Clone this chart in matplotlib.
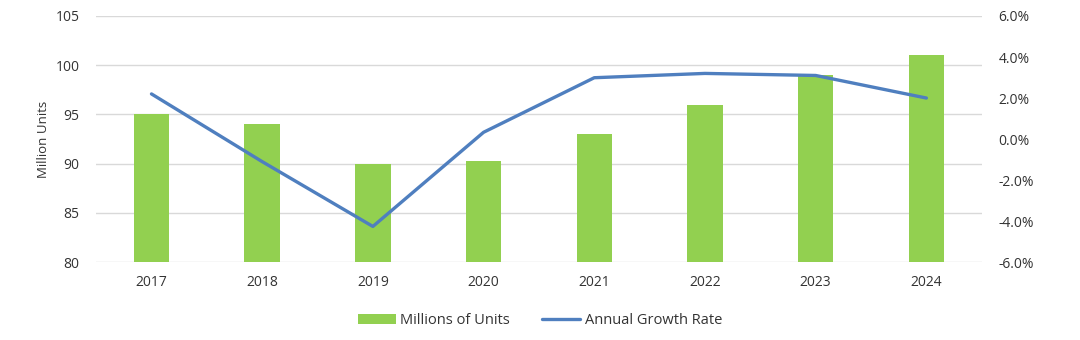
import matplotlib.pyplot as plt
from matplotlib.ticker import FuncFormatter

plt.rcParams['font.family'] = ['Open Sans', 'DejaVu Sans']

years = ['2017', '2018', '2019', '2020', '2021', '2022', '2023', '2024']
units = [95, 94, 90, 90.3, 93, 96, 99, 101]          # millions of units
growth = [2.2, -1.1, -4.26, 0.33, 2.99, 3.2, 3.1, 2.0]  # annual growth, %

fig = plt.figure(figsize=(10.8, 3.4), dpi=100)
ax = fig.add_axes([0.089, 0.229, 0.82, 0.724])
ax2 = ax.twinx()

x = range(len(years))
bars = ax.bar(x, units, width=0.32, color='#92d050', label='Millions of Units', zorder=2)
ax.set_ylim(80, 105)
ax.set_yticks([80, 85, 90, 95, 100, 105])
ax.set_xlim(-0.5, len(years) - 0.5)
ax.set_xticks(list(x))
ax.set_xticklabels(years)
ax.grid(axis='y', color='#d9d9d9', linewidth=1, zorder=0)
ax.set_axisbelow(True)
ax.set_ylabel('Million Units', fontsize=9.5, color='#333333', labelpad=4)

line, = ax2.plot(x, growth, color='#4f7fbf', linewidth=2.4, label='Annual Growth Rate',
                 solid_capstyle='round', zorder=3)
ax2.set_ylim(-6, 6)
ax2.set_yticks([-6, -4, -2, 0, 2, 4, 6])
ax2.yaxis.set_major_formatter(FuncFormatter(lambda v, p: f'{v:.1f}%'))

for a in (ax, ax2):
    for s in a.spines.values():
        s.set_visible(False)
    a.tick_params(length=0, labelsize=10, colors='#333333')
ax.tick_params(axis='x', pad=9)
ax.tick_params(axis='y', pad=12)
ax2.tick_params(axis='y', pad=12)

fig.legend([bars, line], ['Millions of Units', 'Annual Growth Rate'],
           loc='center', bbox_to_anchor=(0.5, 0.056), ncol=2, frameon=False,
           fontsize=10.5, handlelength=2.6, columnspacing=2.2, handletextpad=0.3,
           labelcolor='#333333')

fig.savefig('out.png', dpi=100)
